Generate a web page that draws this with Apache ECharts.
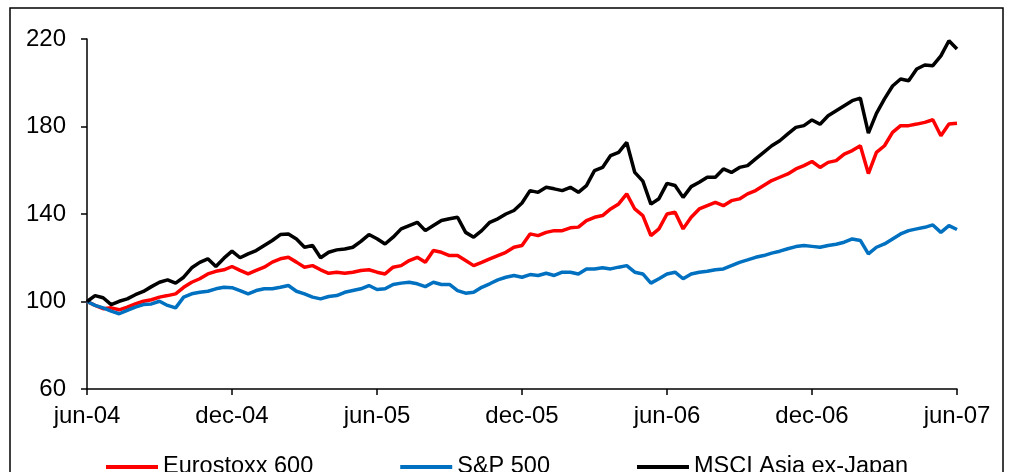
<!DOCTYPE html>
<html>
<head>
<meta charset="utf-8">
<script src="https://cdn.jsdelivr.net/npm/echarts@6/dist/echarts.min.js"></script>
<style>
  html, body { margin: 0; padding: 0; background: #fff; }
  #chart { width: 1011px; height: 472px; }
</style>
</head>
<body>
<div id="chart"></div>
<script>
// Tick labels of the time axis (one every six months)
const tickLabels = ['jun-04', 'dec-04', 'jun-05', 'dec-05', 'jun-06', 'dec-06', 'jun-07'];

// Index levels (start = 100), sampled every third of a month from jun-04 to jun-07
const eurostoxx = [
  100, 98.2, 96.7, 97.1, 96.2, 97.4, 98.9, 100.1, 100.8, 102, 102.7, 103.5, 106.5, 108.8, 110.4, 112.6, 113.8, 114.5,
  116, 114.2, 112.6, 114.2, 115.7, 118, 119.5, 120.2, 118, 115.7, 116.4, 114.5, 112.9, 113.4, 112.9, 113.4, 114.2, 114.5,
  113.4, 112.6, 115.7, 116.4, 118.7, 120.2, 117.9, 123.3, 122.5, 121, 121, 118.7, 116.4, 117.9, 119.5, 121, 122.5, 124.8,
  125.6, 130.9, 130.1, 131.6, 132.4, 132.4, 133.7, 134, 137, 138.5, 139.3, 142.3, 144.6, 149.2, 142.3, 139.3, 130.1, 133.2,
  140, 140.8, 133.2, 138.5, 142.3, 143.8, 145.3, 143.8, 146.1, 146.9, 149.2, 150.7, 153, 155.3, 156.8, 158.3, 160.6, 162.1,
  164, 161.3, 163.6, 164.4, 167.4, 169, 171.2, 158.5, 168.2, 171.2, 177.3, 180.4, 180.4, 181.1, 181.9, 183.1, 175.8, 181.1,
  181.5
];
const sp500 = [
  100, 98.2, 97.1, 95.6, 94.4, 95.9, 97.4, 98.6, 98.9, 100.1, 98.2, 97.1, 102, 103.5, 104.2, 104.7, 105.8, 106.5,
  106.3, 105, 103.5, 105, 105.8, 105.8, 106.5, 107.3, 104.7, 103.5, 102, 101.2, 102.3, 102.7, 104.2, 105, 105.8, 107.3,
  105.5, 105.8, 107.8, 108.4, 108.8, 108.1, 106.8, 108.8, 107.8, 107.8, 105, 103.8, 104.2, 106.5, 108.1, 109.9, 111.1, 111.9,
  111.1, 112.3, 111.9, 112.9, 111.9, 113.4, 113.4, 112.6, 114.9, 114.9, 115.4, 114.9, 115.7, 116.4, 113.4, 112.6, 108.4, 110.4,
  112.6, 113.4, 110.4, 112.6, 113.4, 113.8, 114.5, 114.9, 116.4, 117.9, 119, 120.2, 121, 122.1, 123, 124.1, 125.1, 125.6,
  125.2, 124.8, 125.6, 126.2, 127.1, 128.6, 127.9, 121.8, 124.8, 126.3, 128.6, 130.9, 132.4, 133.2, 133.9, 135, 131.6, 134.7,
  132.9
];
const msciAsia = [
  100, 102.7, 101.7, 98.6, 100.1, 101.2, 103.1, 104.6, 106.8, 108.8, 109.9, 108.4, 111.1, 115.4, 117.9, 119.5, 116, 119.8,
  123, 120, 121.8, 123.3, 125.6, 127.9, 130.6, 130.9, 128.6, 124.8, 125.6, 120, 122.5, 123.6, 124, 124.8, 127.5, 130.6,
  128.7, 126.3, 129.4, 133.2, 134.7, 136.2, 132.4, 134.7, 137, 137.8, 138.5, 131.6, 129.4, 132.4, 136.2, 137.8, 140, 141.6,
  145, 150.7, 149.9, 152.2, 151.5, 150.7, 152.2, 149.9, 153, 159.8, 161.3, 166.7, 168.2, 172.7, 159, 155, 144.5, 147,
  154, 153, 147.6, 152.5, 154.5, 156.8, 156.8, 160.6, 159, 161.3, 162.1, 165.2, 168.2, 171.2, 173.5, 176.6, 179.6, 180.4,
  183, 181, 184.9, 187.2, 189.5, 191.8, 193, 177, 186, 192.6, 198.5, 201.7, 200.9, 206.3, 208.1, 207.8, 212.3, 219.2,
  215.4
];

// Sample times in months after jun-04
const months = eurostoxx.map((_, i) => i / 3);
const pairs = vals => vals.map((v, i) => [months[i], v]);

const font = 'Arial, "Liberation Sans", sans-serif';
const chart = echarts.init(document.getElementById('chart'), null, { renderer: 'canvas' });

const lineSeries = (name, color, vals) => ({
  name: name,
  type: 'line',
  data: pairs(vals),
  symbol: 'none',
  smooth: false,
  animation: false,
  lineStyle: { color: color, width: 3.5 },
  itemStyle: { color: color }
});

chart.setOption({
  backgroundColor: '#fff',
  animation: false,
  graphic: [{
    type: 'rect',
    shape: { x: 10, y: 8, width: 993, height: 480 },
    style: { fill: null, stroke: '#000', lineWidth: 1.5 },
    silent: true
  }],
  grid: { left: 87, right: 54, top: 39, bottom: 83, containLabel: false },
  legend: {
    left: 101,
    top: 450,
    itemWidth: 52,
    itemHeight: 4,
    itemGap: 87,
    icon: 'rect',
    textStyle: { fontFamily: font, fontSize: 23.5, color: '#000' },
    data: ['Eurostoxx 600', 'S&P 500', 'MSCI Asia ex-Japan']
  },
  xAxis: {
    type: 'value',
    min: 0,
    max: 36,
    interval: 6,
    axisLine: { lineStyle: { color: '#000', width: 1.5 } },
    axisTick: { show: true, length: 6, lineStyle: { color: '#000', width: 1.5 } },
    splitLine: { show: false },
    axisLabel: {
      margin: 15,
      fontFamily: font,
      fontSize: 24,
      color: '#000',
      formatter: v => tickLabels[Math.round(v / 6)]
    }
  },
  yAxis: {
    type: 'value',
    min: 60,
    max: 220,
    interval: 40,
    axisLine: { show: true, lineStyle: { color: '#000', width: 1.5 } },
    axisTick: { show: true, length: 6, lineStyle: { color: '#000', width: 1.5 } },
    splitLine: { show: false },
    axisLabel: { margin: 21, fontFamily: font, fontSize: 24, color: '#000' }
  },
  series: [
    lineSeries('Eurostoxx 600', '#FF0000', eurostoxx),
    lineSeries('S&P 500', '#0070C0', sp500),
    lineSeries('MSCI Asia ex-Japan', '#000000', msciAsia)
  ]
});
</script>
</body>
</html>
